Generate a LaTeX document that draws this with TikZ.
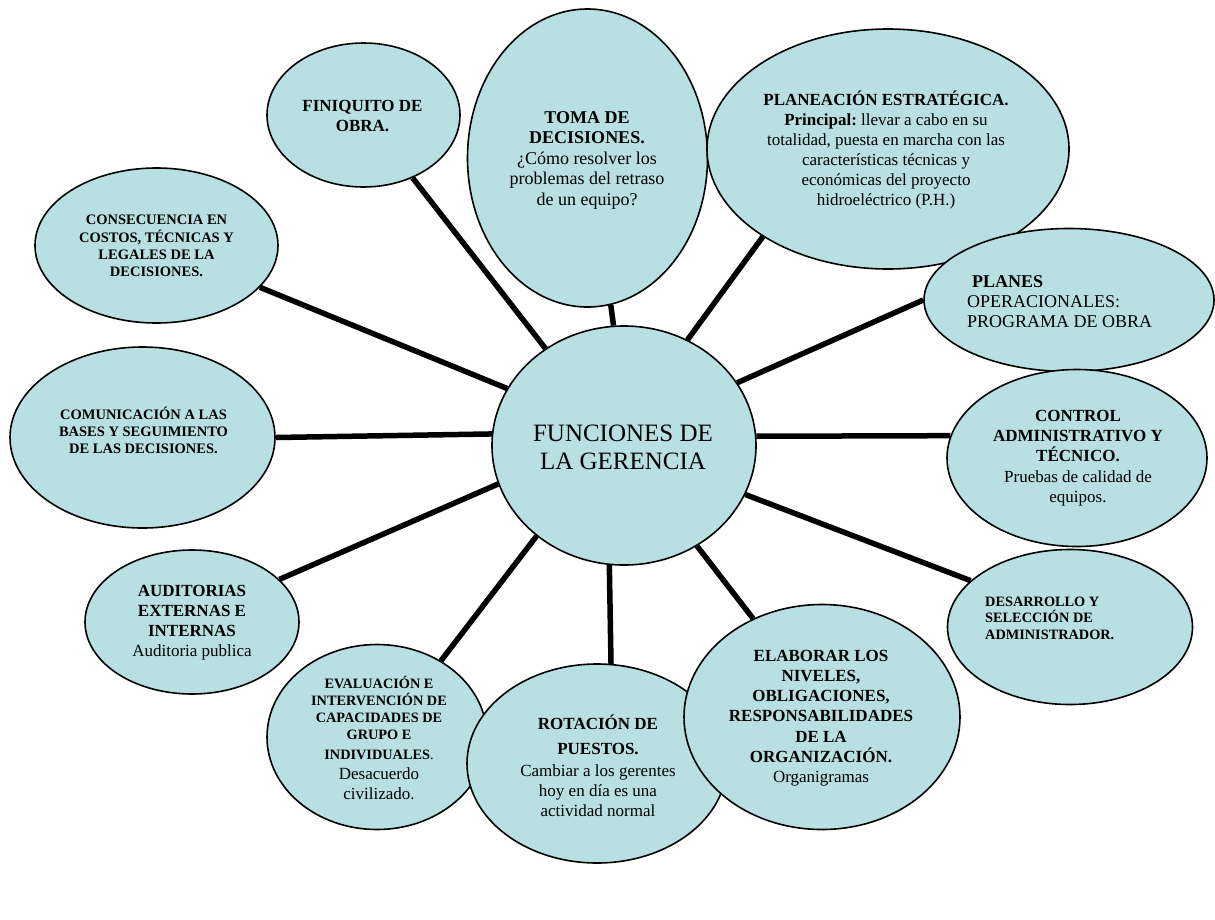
\documentclass[tikz,border=0pt]{standalone}
\usepackage{fontspec}
\setmainfont{Liberation Serif}
\usetikzlibrary{shapes.geometric,backgrounds}
\definecolor{bubblefill}{RGB}{184,223,226}
\begin{document}
\begin{tikzpicture}[x=1pt,y=-1pt,
  bubble/.style={ellipse, draw=black, line width=1.6pt, fill=bubblefill, inner sep=0pt},
  spoke/.style={line width=5.5pt, draw=black},
  txt/.style={align=center, inner sep=0pt, text=black},
  txtl/.style={align=left, inner sep=0pt, text=black, anchor=west},
]
\useasboundingbox (0,0) rectangle (1215,919);

% bubbles
\node[bubble, minimum width=193pt, minimum height=144pt] (fin) at (363.5,115) {};
\node[bubble, minimum width=240pt, minimum height=298pt] (tom) at (587.5,158) {};
\node[bubble, minimum width=362pt, minimum height=240pt] (pla) at (888,149) {};
\node[bubble, minimum width=290pt, minimum height=143pt] (pln) at (1069,300) {};
\node[bubble, minimum width=260pt, minimum height=177pt] (ctl) at (1077,458) {};
\node[bubble, minimum width=245pt, minimum height=155pt] (des) at (1070,627) {};
\node[bubble, minimum width=220pt, minimum height=185pt] (eva) at (377,737) {};
\node[bubble, minimum width=260pt, minimum height=199pt] (rot) at (597,763.5) {};
\node[bubble, minimum width=276pt, minimum height=225pt] (ela) at (822,717) {};
\node[bubble, minimum width=214pt, minimum height=144pt] (aud) at (192,622) {};
\node[bubble, minimum width=265pt, minimum height=181pt] (com) at (142.5,437.5) {};
\node[bubble, minimum width=243pt, minimum height=155pt] (con) at (156.5,245.5) {};
\node[bubble, minimum width=264pt, minimum height=239pt] (ctr) at (624,445.5) {};

% spokes
\begin{pgfonlayer}{background}
\draw[spoke] (ctr.129.6) -- (fin.308.6);
\draw[spoke] (ctr.95.3) -- (tom.279.9);
\draw[spoke] (ctr.59.2) -- (pla.215.6);
\draw[spoke] (ctr.29.8) -- (pln.180);
\draw[spoke] (ctr.4.1) -- (ctl.170);
\draw[spoke] (ctr.338.7) -- (des.155.8);
\draw[spoke] (ctr.306.3) -- (ela.125.4);
\draw[spoke] (ctr.263.8) -- (rot.82);
\draw[spoke] (ctr.226.1) -- (eva.50.3);
\draw[spoke] (ctr.197.4) -- (aud.26.3);
\draw[spoke] (ctr.175.4) -- (com.0);
\draw[spoke] (ctr.154.6) -- (con.338.9);
\end{pgfonlayer}

% texts
\node[txt, font=\fontsize{17}{20}\selectfont\bfseries] (fin-t) at (362.5,116)
  {FINIQUITO DE\\OBRA.};
\node[txt, font=\fontsize{18}{20.5}\selectfont] (tom-t) at (587,160)
  {\textbf{TOMA DE}\\\textbf{DECISIONES.}\\¿Cómo resolver los\\problemas del retraso\\de un equipo?};
\node[txt, font=\fontsize{17}{20}\selectfont] (pla-t) at (886,150)
  {\textbf{PLANEACIÓN ESTRATÉGICA.}\\\textbf{Principal:}~llevar a cabo en su\\totalidad, puesta en marcha con las\\características técnicas y\\económicas del proyecto\\hidroeléctrico (P.H.)};
\node[txtl, font=\fontsize{18}{20}\selectfont] (pln-t) at (967,302)
  {\hspace*{5pt}\textbf{PLANES}\\OPERACIONALES:\\PROGRAMA DE OBRA};
\node[txt, font=\fontsize{17}{20.2}\selectfont] (ctl-t) at (1078,458)
  {\textbf{CONTROL}\\\textbf{ADMINISTRATIVO Y}\\\textbf{TÉCNICO.}\\Pruebas de calidad de\\equipos.};
\node[txtl, font=\fontsize{14.3}{16.5}\selectfont\bfseries] (des-t) at (985,618)
  {DESARROLLO Y\\SELECCIÓN DE\\ADMINISTRADOR.};
\node[txt, font=\fontsize{17}{20.2}\selectfont] (ela-t) at (821,718)
  {\textbf{ELABORAR LOS}\\\textbf{NIVELES,}\\\textbf{OBLIGACIONES,}\\\textbf{RESPONSABILIDADES}\\\textbf{DE LA}\\\textbf{ORGANIZACIÓN.}\\Organigramas};
\node[txt, font=\fontsize{17}{20}\selectfont] (rot-t) at (598,766)
  {\textbf{ROTACIÓN DE}\\[5pt]\textbf{PUESTOS.}\\[2pt]Cambiar a los gerentes\\hoy en día es una\\actividad normal};
\node[txt, font=\fontsize{14.3}{16.7}\selectfont] (eva-t) at (379,738)
  {\textbf{EVALUACIÓN E}\\\textbf{INTERVENCIÓN DE}\\\textbf{CAPACIDADES DE}\\\textbf{GRUPO E}\\[3.3pt]\textbf{INDIVIDUALES}.\\[3.3pt]{\fontsize{17}{20}\selectfont Desacuerdo}\\[3.3pt]{\fontsize{17}{20}\selectfont civilizado.}};
\node[txt, font=\fontsize{17}{20}\selectfont] (aud-t) at (192,623)
  {\textbf{AUDITORIAS}\\\textbf{EXTERNAS E}\\\textbf{INTERNAS}\\Auditoria publica};
\node[txt, font=\fontsize{14.5}{17}\selectfont\bfseries] (com-t) at (143.5,430)
  {COMUNICACIÓN A LAS\\BASES Y SEGUIMIENTO\\DE LAS DECISIONES.};
\node[txt, font=\fontsize{14.5}{17.3}\selectfont\bfseries] (con-t) at (156.5,246)
  {CONSECUENCIA EN\\COSTOS, TÉCNICAS Y\\LEGALES DE LA\\DECISIONES.};
\node[txt, font=\fontsize{25}{27.7}\selectfont] (ctr-t) at (623,447)
  {FUNCIONES DE\\LA GERENCIA};
\end{tikzpicture}
\end{document}
